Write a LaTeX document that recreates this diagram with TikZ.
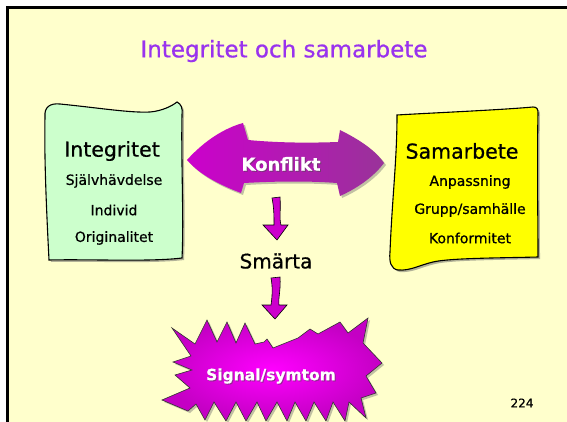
\documentclass[tikz,border=0pt]{standalone}
\usepackage{fontspec}
\setmainfont{DejaVu Sans}[RawFeature={embolden=0.7}]
\usetikzlibrary{shadows}
\definecolor{slidebg}{HTML}{FFFFCC}
\definecolor{titlepurple}{HTML}{9933EE}
\definecolor{boxgreen}{HTML}{CCFFCC}
\definecolor{boxyellow}{HTML}{FFFF00}
\definecolor{arrowmag}{HTML}{CC00CC}
\definecolor{arrowplum}{HTML}{993399}
\definecolor{burstin}{HTML}{FF00FF}
\definecolor{burstout}{HTML}{C400C4}
\tikzset{
  paper/.style={draw=black, line width=1.1pt,
    drop shadow={shadow xshift=2pt, shadow yshift=-2pt, fill=black!60, opacity=0.5}},
  bigtxt/.style={font=\fontsize{20.5}{24}\selectfont, text=black, inner sep=0pt},
  smalltxt/.style={font=\fontsize{14}{16}\selectfont, text=black, inner sep=0pt},
  whitetxt/.style={text=white, inner sep=0pt},
  shadowtxt/.style={text=black!70, opacity=0.5, inner sep=0pt},
  downarrow/.style={fill=arrowmag, draw=black, line width=0.6pt}
}
\begin{document}
\begin{tikzpicture}[x=1pt,y=-1pt]
\useasboundingbox (0,0) rectangle (567,422);
\fill[white] (0,0) rectangle (567,422);
\begin{scope}
\clip (0,0) rectangle (567,422);
\draw[line width=3pt, fill=slidebg] (7,8) rectangle (580,440);

% title
\node[font=\fontsize{23}{26}\selectfont, text=titlepurple, inner sep=0pt] (title) at (284,51) {Integritet och samarbete};

% green paper
\path[paper, fill=boxgreen]
  (45,117) .. controls (44,107) and (50,103) .. (60,104)
  .. controls (100,108) and (130,113) .. (150,112)
  .. controls (162,111) and (172,106) .. (177,102)
  .. controls (181,104) and (183,108) .. (182,115)
  .. controls (181,160) and (184,220) .. (182,258)
  .. controls (150,262) and (90,259) .. (49,260)
  .. controls (47,220) and (44,160) .. (45,117) -- cycle;
\node[bigtxt] (integ) at (112,151) {Integritet};
\node[smalltxt] (sjalv) at (114,181) {Självhävdelse};
\node[smalltxt] (indiv) at (114,210) {Individ};
\node[smalltxt] (orig) at (114,238) {Originalitet};

% yellow paper
\path[paper, fill=boxyellow]
  (397,115) .. controls (430,113) and (500,110) .. (533,107)
  .. controls (537,107) and (538,109) .. (538,113)
  .. controls (537,160) and (538,220) .. (538,257)
  .. controls (500,258) and (450,258) .. (433,262)
  .. controls (420,265) and (410,271) .. (398,270)
  .. controls (391,269) and (389,262) .. (390,252)
  .. controls (392,200) and (397,160) .. (397,115) -- cycle;
\node[bigtxt] (samar) at (462,151) {Samarbete};
\node[smalltxt] (anpass) at (470,182) {Anpassning};
\node[smalltxt] (grupp) at (470,210) {Grupp/samhälle};
\node[smalltxt] (konform) at (470,238) {Konformitet};

% Konflikt double arrow
\shade[left color=arrowmag, right color=arrowplum,
  drop shadow={shadow xshift=2pt, shadow yshift=-2pt, fill=black!60, opacity=0.4}]
  (187,160) .. controls (205,140) and (225,128) .. (243,123)
  -- (248,140) .. controls (280,143) and (310,143) .. (338,142)
  -- (340,130) .. controls (360,140) and (375,150) .. (384,163)
  .. controls (375,175) and (360,187) .. (340,196)
  -- (337,183) .. controls (310,181) and (280,181) .. (244,183)
  -- (241,193) .. controls (220,185) and (200,175) .. (187,160) -- cycle;
\node[shadowtxt, font=\bfseries\fontsize{18}{20}\selectfont] (konfsh) at (282,165) {Konflikt};
\node[whitetxt, font=\bfseries\fontsize{18}{20}\selectfont] (konf) at (281,164) {Konflikt};

% down arrows
\path[downarrow]
  (272,198) -- (280,197) .. controls (281,210) and (279,218) .. (281,225)
  -- (288,225) -- (277,240) -- (263,225) -- (274,225)
  .. controls (274,216) and (274,208) .. (272,198) -- cycle;
\node[font=\fontsize{20}{24}\selectfont, inner sep=0pt] (smarta) at (276,261) {Smärta};
\path[downarrow]
  (271,278) -- (280,277) .. controls (281,290) and (278,298) .. (279,305)
  -- (287,305) -- (275,319) -- (262,305) -- (271,305)
  .. controls (272,298) and (273,288) .. (271,278) -- cycle;

% burst
\shade[inner color=burstin, outer color=burstout, draw=black!80, line width=0.6pt,
  drop shadow={shadow xshift=2pt, shadow yshift=-2pt, fill=black!60, opacity=0.4}]
  (172,328) -- (195,344) -- (207,320) -- (217,342) -- (227,322) -- (236,343)
  -- (245,323) -- (255,344) -- (264,342) -- (267,339) -- (273,348) -- (298,338)
  -- (310,329) -- (318,334) -- (340,322) -- (348,333) -- (368,318) -- (363,343)
  -- (382,363) -- (366,376) -- (376,393) -- (361,398) -- (366,418) -- (349,402)
  -- (345,421) -- (333,402) -- (326,421) -- (314,402) -- (306,421) -- (295,402)
  -- (287,421) -- (277,402) -- (266,421) -- (257,402) -- (246,421) -- (236,402)
  -- (226,421) -- (214,402) -- (205,420) -- (196,404) -- (188,411) -- (162,400)
  -- (190,388) -- (175,375) -- (192,370) -- (173,362) -- (191,356) -- cycle;
\node[shadowtxt, font=\bfseries\fontsize{15.5}{18}\selectfont] (sigsh) at (272,377) {Signal/symtom};
\node[whitetxt, font=\bfseries\fontsize{15.5}{18}\selectfont] (signal) at (271,376) {Signal/symtom};

% page number
\node[font=\fontsize{12}{14}\selectfont, inner sep=0pt] (pagenum) at (522,403) {224};
\end{scope}
\end{tikzpicture}
\end{document}
